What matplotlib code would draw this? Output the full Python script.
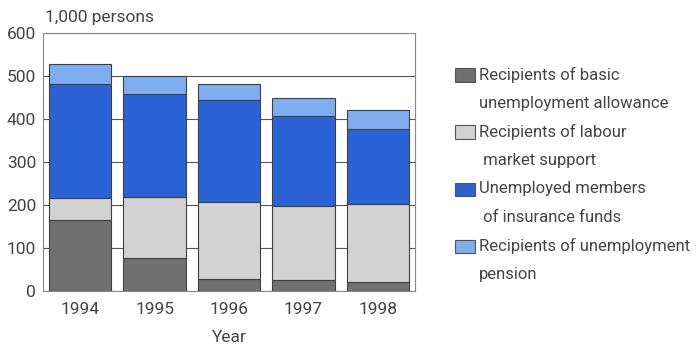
import matplotlib
matplotlib.use("Agg")
import matplotlib.pyplot as plt
from matplotlib.patches import Rectangle
import numpy as np

plt.rcParams['font.family'] = ['Roboto', 'DejaVu Sans']

years = ["1994", "1995", "1996", "1997", "1998"]
basic_allowance = [165, 76, 28, 26, 20]
labour_support = [52, 142, 178, 171, 182]
insurance_funds = [265, 240, 238, 210, 174]
unemp_pension = [47, 41, 38, 41, 46]

labels = ["Recipients of basic\nunemployment allowance",
          "Recipients of labour\n market support",
          "Unemployed members\n of insurance funds",
          "Recipients of unemployment\npension"]
colors = ["#707070", "#d2d2d2", "#2b62d6", "#7eaef0"]

text_col = "#444444"
W, H = 700, 349

fig = plt.figure(figsize=(7, 3.49), dpi=100)
ax = fig.add_axes([43 / W, 1 - 291 / H, 372 / W, 258 / H])

x = np.arange(len(years))
bottom = np.zeros(len(years))
for vals, lab, col in zip([basic_allowance, labour_support, insurance_funds, unemp_pension], labels, colors):
    ax.bar(x, vals, bottom=bottom, width=0.84, color=col, edgecolor="#404040",
           linewidth=0.8, label=lab, zorder=3)
    bottom += np.array(vals)

ax.set_xlim(-0.5, 4.5)
ax.set_ylim(0, 600)
ax.set_yticks(range(0, 601, 100))
ax.set_xticks(x)
ax.set_xticklabels(years)
ax.yaxis.grid(True, color="#555555", linewidth=0.8, zorder=0)
ax.tick_params(axis='both', length=0, labelsize=12.5, colors=text_col, pad=8)
ax.tick_params(axis='y', pad=5)
for s in ax.spines.values():
    s.set_color("#888888")
    s.set_linewidth(0.8)

ax.set_xlabel("Year", fontsize=12.5, color=text_col, labelpad=9)
ax.text(0.005, 1.03, "1,000 persons", transform=ax.transAxes, fontsize=12.5,
        color=text_col, ha="left", va="bottom")

# legend drawn by hand so the box sits on the first line of each label
for i, (lab, col) in enumerate(zip(labels, colors)):
    yc = 75 + i * 57
    fig.patches.append(Rectangle((455 / W, 1 - (yc + 6.5) / H), 20 / W, 13 / H,
                                 transform=fig.transFigure, facecolor=col,
                                 edgecolor="#555555", linewidth=0.8))
    for j, line in enumerate(lab.split("\n")):
        fig.text(479 / W, 1 - (yc + j * 28) / H, line, fontsize=12, color=text_col,
                 ha="left", va="center")

fig.savefig("out.png", dpi=100)
